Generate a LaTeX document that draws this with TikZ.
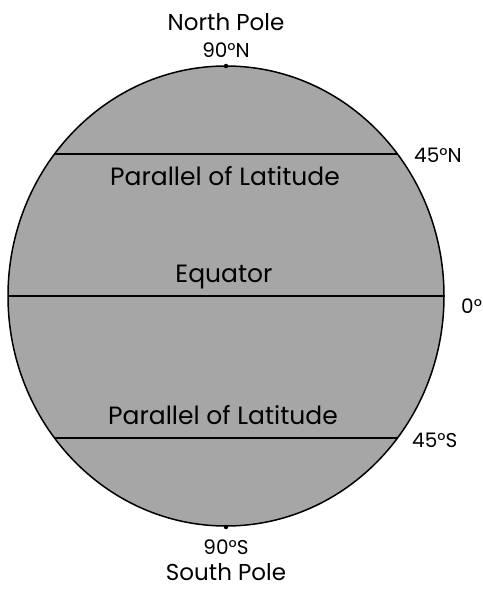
\documentclass[tikz,border=0pt]{standalone}
\usepackage{fontspec}
\setmainfont{Poppins}
\usepackage{tikz}
\usetikzlibrary{positioning, calc}
\tikzset{
    globe/.style={draw, line width=1.5pt, fill=black!35},
    parallel/.style={line width=1.4pt},
    lbl/.style={font=\fontsize{20}{22}\selectfont, inner sep=0pt},
    polename/.style={font=\fontsize{23}{25}\selectfont, inner sep=0pt},
    inlbl/.style={font=\fontsize{25}{27}\selectfont, inner sep=0pt}
    ,pole/.style={circle, fill, inner sep=0pt, minimum size=4.5pt}
}

\begin{document}
\begin{tikzpicture}[x=1pt, y=-1pt]
    \useasboundingbox (0,0) rectangle (482,594);
    \coordinate (c) at (226,296);
    \draw [globe] (c) ellipse [x radius=218, y radius=230];

    % Parallels of latitude
    \coordinate (n45w) at ($(c)+(-171.5,-142)$);
    \coordinate (n45e) at ($(c)+(171.5,-142)$);
    \coordinate (eqw) at ($(c)+(-218,0)$);
    \coordinate (eqe) at ($(c)+(218,0)$);
    \coordinate (s45w) at ($(c)+(-171.5,142)$);
    \coordinate (s45e) at ($(c)+(171.5,142)$);
    \draw [parallel] (n45w) -- (n45e);
    \draw [parallel] (eqw) -- (eqe);
    \draw [parallel] (s45w) -- (s45e);

    % Poles
    \node (np) [pole] at ($(c)+(0,-230)$) {};
    \node (sp) [pole] at ($(c)+(0,231)$) {};
    \node (n90) [lbl, above=6pt of np] {90°N};
    \node (npole) [polename, above=11pt of n90] {North Pole};
    \node (s90) [lbl, below=10pt of sp] {90°S};
    \node (spole) [polename, below=9pt of s90] {South Pole};

    % Degree labels
    \node (l45n) [lbl, anchor=west] at (414,155) {45°N};
    \node (l0) [lbl, anchor=west] at (461,306) {0°};
    \node (l45s) [lbl, anchor=west] at (412,440) {45°S};

    % Names inside the globe
    \node (par1) [inlbl] at (225,176) {Parallel of Latitude};
    \node (eq) [inlbl] at (224,277) {Equator};
    \node (par2) [inlbl] at (223,415) {Parallel of Latitude};
\end{tikzpicture}
\end{document}
